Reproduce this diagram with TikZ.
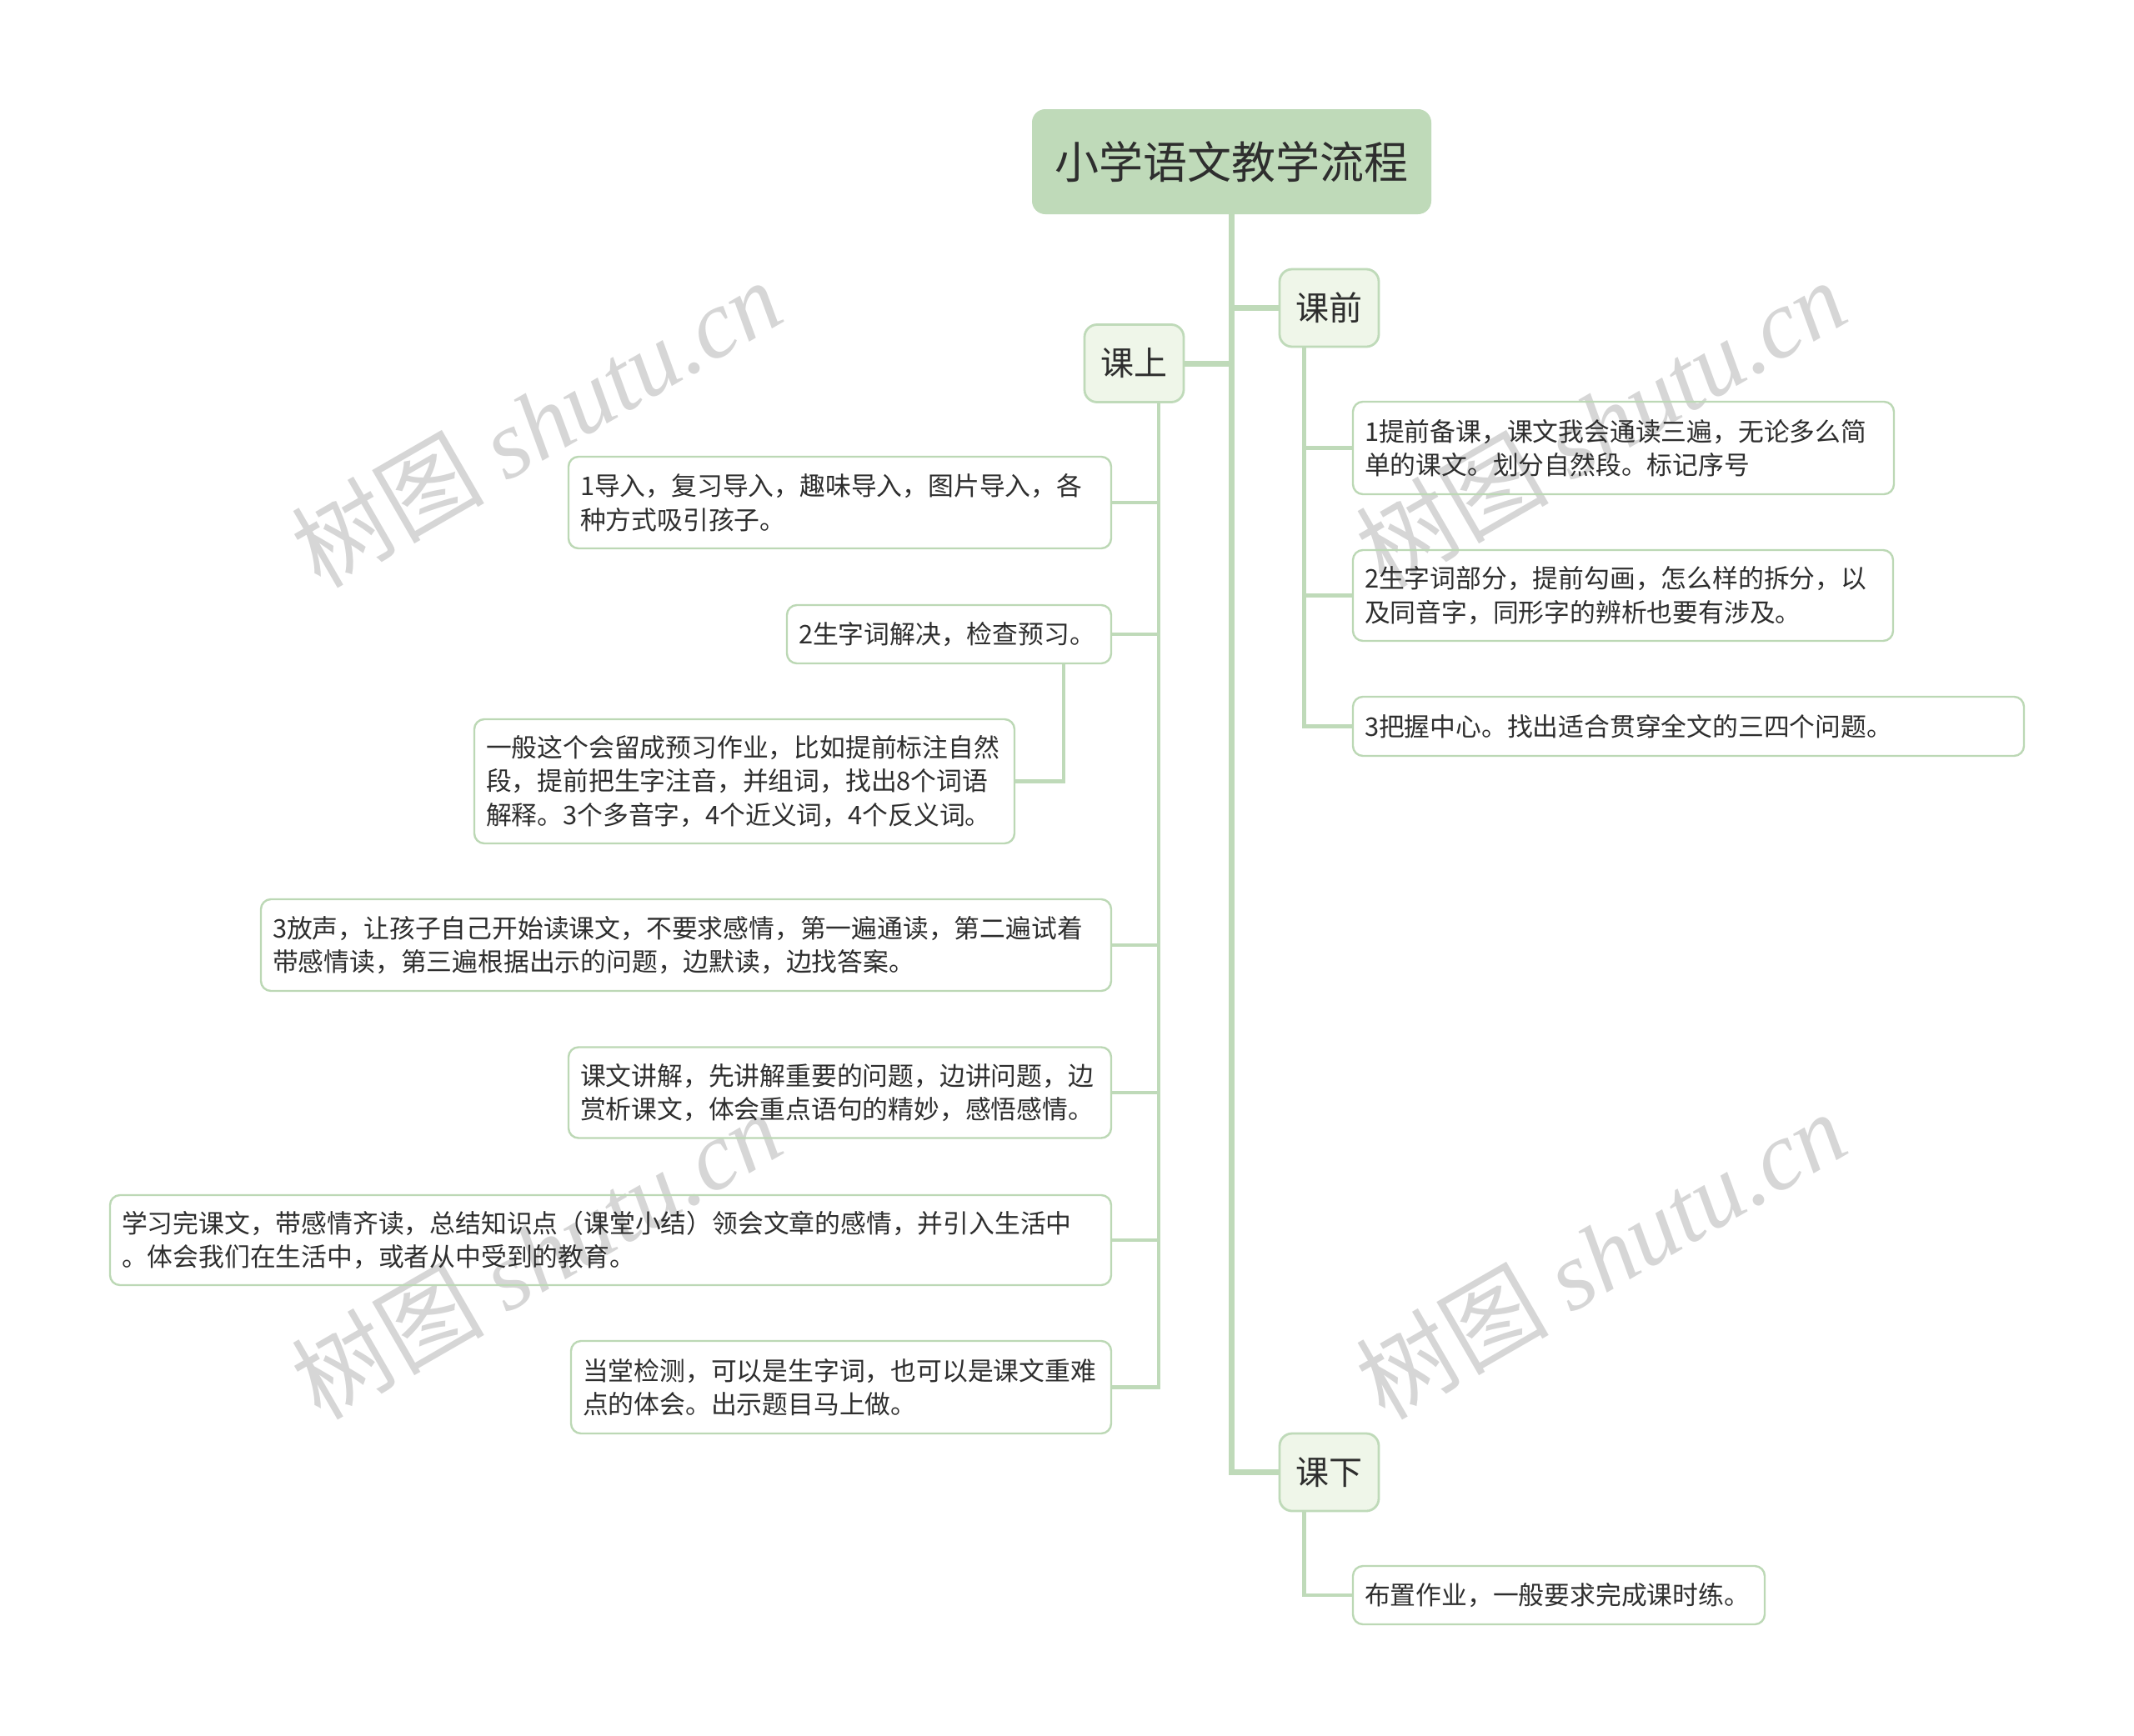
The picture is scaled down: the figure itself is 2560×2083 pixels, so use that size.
\documentclass[tikz,border=0pt]{standalone}
\usepackage{fontspec}
\setmainfont{Noto Sans CJK SC}
\newfontfamily\wmlatin{Liberation Serif}
\definecolor{linec}{HTML}{BFDAB9}
\definecolor{rootfill}{HTML}{BFDAB9}
\definecolor{brfill}{HTML}{EFF6E9}
\definecolor{leafc}{HTML}{BCD8B5}
\definecolor{txt}{HTML}{2E2E2E}
\definecolor{wmc}{HTML}{D6D6D6}
\begin{document}
\begin{tikzpicture}[x=0.5pt,y=-0.5pt,
  rootbox/.style={rectangle, rounded corners=7.5pt, fill=rootfill, draw=rootfill, line width=1pt,
    minimum width=238.5pt, minimum height=62pt, inner sep=0pt, text=txt,
    font=\fontsize{26.5}{30}\selectfont},
  branchbox/.style={rectangle, rounded corners=7.5pt, fill=brfill, draw=linec, line width=1.4pt,
    minimum width=59.5pt, minimum height=46.5pt, inner sep=0pt, text=txt,
    font=\fontsize{20}{24}\selectfont},
  leafbox/.style={rectangle, rounded corners=6pt, draw=leafc, line width=1.2pt,
    inner xsep=7pt, inner ysep=0pt, align=left, text=txt,
    font=\fontsize{15.4}{20.2}\selectfont},
  trunk/.style={draw=linec, line width=3.5pt},
  sub/.style={draw=linec, line width=2.4pt},
  wm/.style={rotate=30, text=wmc, inner sep=0pt,
    font=\fontsize{58}{58}\selectfont}
]
\useasboundingbox (0,0) rectangle (2560,2083);
\fill[white] (0,0) rectangle (2560,2083);

% watermarks (behind everything)
\node[wm] (wm1) at (643,507) {树图 {\wmlatin\itshape shutu.cn}};
\node[wm] (wm2) at (1920,507) {树图 {\wmlatin\itshape shutu.cn}};
\node[wm] (wm3) at (643,1505) {树图 {\wmlatin\itshape shutu.cn}};
\node[wm] (wm4) at (1920,1505) {树图 {\wmlatin\itshape shutu.cn}};

% root and branches
\node[rootbox] (root) at (1477.5,194) {小学语文教学流程};
\node[branchbox] (kq) at (1594.5,369.5) {课前};
\node[branchbox] (ks) at (1360.5,436) {课上};
\node[branchbox] (kx) at (1594.5,1766.5) {课下};

% 课前 leaves
\node[leafbox, text width=310.5pt, minimum height=55.5pt] (c1) at (1947.5,537.5) {1提前备课，课文我会通读三遍，无论多么简\\单的课文。划分自然段。标记序号};
\node[leafbox, text width=310pt, minimum height=54.5pt] (c2) at (1947,714.5) {2生字词部分，提前勾画，怎么样的拆分，以\\及同音字，同形字的辨析也要有涉及。};
\node[leafbox, text width=388.5pt, minimum height=35.5pt] (c3) at (2025.5,871.5) {3把握中心。找出适合贯穿全文的三四个问题。};

% 课下 leaf
\node[leafbox, text width=233pt, minimum height=35pt] (r4) at (1870,1914) {布置作业，一般要求完成课时练。};

% 课上 leaves
\node[leafbox, text width=311.5pt, minimum height=55pt] (L1) at (1007.5,603) {1导入，复习导入，趣味导入，图片导入，各\\种方式吸引孩子。};
\node[leafbox, text width=180.5pt, minimum height=35pt] (L2) at (1138.5,761) {2生字词解决，检查预习。};
\node[leafbox, text width=310pt, minimum height=74.5pt] (L3) at (893,937.5) {一般这个会留成预习作业，比如提前标注自然\\段，提前把生字注音，并组词，找出8个词语\\解释。3个多音字，4个近义词，4个反义词。};
\node[leafbox, text width=496pt, minimum height=55pt] (L4) at (823,1134) {3放声，让孩子自己开始读课文，不要求感情，第一遍通读，第二遍试着\\带感情读，第三遍根据出示的问题，边默读，边找答案。};
\node[leafbox, text width=311.5pt, minimum height=54.5pt] (L5) at (1007.5,1311) {课文讲解，先讲解重要的问题，边讲问题，边\\赏析课文，体会重点语句的精妙，感悟感情。};
\node[leafbox, text width=586.5pt, minimum height=54pt] (L6) at (732.5,1488) {学习完课文，带感情齐读，总结知识点（课堂小结）领会文章的感情，并引入生活中\\。体会我们在生活中，或者从中受到的教育。};
\node[leafbox, text width=310pt, minimum height=55.5pt] (L7) at (1009,1664.5) {当堂检测，可以是生字词，也可以是课文重难\\点的体会。出示题目马上做。};

% trunk connectors
\draw[trunk] (root.south) -- (root.south |- kx.west) -- (kx.west);
\draw[trunk] (root.south |- kq.west) -- (kq.west);
\draw[trunk] (root.south |- ks.east) -- (ks.east);

% 课前 connectors
\draw[sub] ([xshift=-15pt]kq.south) |- (c1.west);
\draw[sub] ([xshift=-15pt]kq.south) |- (c2.west);
\draw[sub] ([xshift=-15pt]kq.south) |- (c3.west);

% 课下 connector
\draw[sub] ([xshift=-15pt]kx.south) |- (r4.west);

% 课上 connectors
\draw[sub] ([xshift=14.75pt]ks.south) |- (L1.east);
\draw[sub] ([xshift=14.75pt]ks.south) |- (L2.east);
\draw[sub] ([xshift=14.75pt]ks.south) |- (L4.east);
\draw[sub] ([xshift=14.75pt]ks.south) |- (L5.east);
\draw[sub] ([xshift=14.75pt]ks.south) |- (L6.east);
\draw[sub] ([xshift=14.75pt]ks.south) |- (L7.east);
\draw[sub] ([xshift=68.75pt]L2.south) |- (L3.east);
\end{tikzpicture}
\end{document}
